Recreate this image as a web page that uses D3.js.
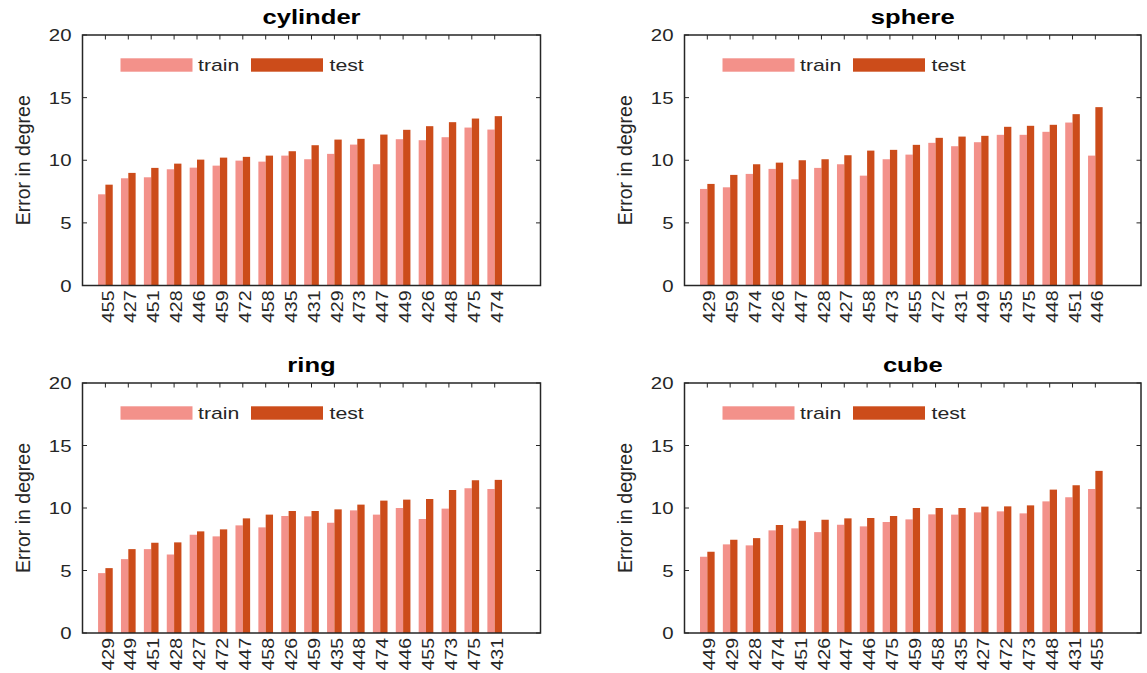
<!DOCTYPE html>
<html>
<head>
<meta charset="utf-8">
<script src="https://cdn.jsdelivr.net/npm/d3@7"></script>
<style>
  html, body { margin: 0; padding: 0; background: #fff; }
  svg { display: block; font-family: "Liberation Sans", Arial, Helvetica, sans-serif; }
</style>
</head>
<body>
<svg id="chart" width="1147" height="673"></svg>
<script>
// Per-object angular error (degrees) for each sequence, sorted by test error.
const cylinderLabels = ["455","427","451","428","446","459","472","458","435","431","429","473","447","449","426","448","475","474"];
const cylinderTrain  = [7.28, 8.56, 8.64, 9.28, 9.41, 9.57, 9.97, 9.89, 10.37, 10.08, 10.51, 11.25, 9.68, 11.68, 11.60, 11.84, 12.61, 12.45];
const cylinderTest   = [8.05, 8.99, 9.39, 9.73, 10.05, 10.21, 10.27, 10.37, 10.72, 11.20, 11.65, 11.71, 12.05, 12.43, 12.72, 13.04, 13.33, 13.52];

const sphereLabels = ["429","459","474","426","447","428","427","458","473","455","472","431","449","435","475","448","451","446"];
const sphereTrain  = [7.71, 7.84, 8.91, 9.31, 8.48, 9.39, 9.68, 8.77, 10.08, 10.45, 11.39, 11.12, 11.44, 12.03, 12.03, 12.27, 13.01, 10.37];
const sphereTest   = [8.11, 8.83, 9.68, 9.81, 10.00, 10.08, 10.40, 10.77, 10.83, 11.23, 11.79, 11.89, 11.95, 12.67, 12.75, 12.83, 13.68, 14.24];

const ringLabels = ["429","449","451","428","427","472","447","458","426","459","435","448","474","446","455","473","475","431"];
const ringTrain  = [4.79, 5.91, 6.71, 6.28, 7.86, 7.73, 8.61, 8.45, 9.36, 9.33, 8.82, 9.81, 9.47, 10.00, 9.12, 9.95, 11.58, 11.52];
const ringTest   = [5.19, 6.71, 7.22, 7.25, 8.13, 8.29, 9.17, 9.47, 9.76, 9.76, 9.89, 10.27, 10.59, 10.67, 10.72, 11.44, 12.22, 12.25];

const cubeLabels = ["449","429","428","474","451","426","447","446","475","459","458","435","427","472","473","448","431","455"];
const cubeTrain  = [6.10, 7.09, 7.01, 8.21, 8.37, 8.07, 8.66, 8.53, 8.88, 9.09, 9.49, 9.47, 9.65, 9.73, 9.57, 10.53, 10.86, 11.52];
const cubeTest   = [6.50, 7.46, 7.59, 8.64, 8.98, 9.06, 9.17, 9.20, 9.36, 10.00, 10.00, 10.00, 10.11, 10.13, 10.21, 11.47, 11.82, 12.97];

const yTicks = [0, 5, 10, 15, 20];
const seriesNames = ["train", "test"];
const seriesColors = ["#F3918A", "#CC4C1A"];

const panels = [
  { title: "cylinder", labels: cylinderLabels, train: cylinderTrain, test: cylinderTest, left: 82.5,  right: 540.5, top: 35,  bottom: 285.5 },
  { title: "sphere",   labels: sphereLabels,   train: sphereTrain,   test: sphereTest,   left: 684.5, right: 1141,  top: 35,  bottom: 285.5 },
  { title: "ring",     labels: ringLabels,     train: ringTrain,     test: ringTest,     left: 82.5,  right: 540.5, top: 383, bottom: 633 },
  { title: "cube",     labels: cubeLabels,     train: cubeTrain,     test: cubeTest,     left: 684.5, right: 1141,  top: 383, bottom: 633 }
];

const svg = d3.select("#chart");
const axisColor = "#262626";
const barW = 0.32; // bar width in category units

panels.forEach(p => {
  const n = p.labels.length;
  const x = d3.scaleLinear().domain([0, n + 2]).range([p.left, p.right]);
  const y = d3.scaleLinear().domain([0, 20]).range([p.bottom, p.top]);
  const g = svg.append("g");

  // bars
  const rows = p.labels.map((lab, i) => ({ i: i + 1, lab, train: p.train[i], test: p.test[i] }));
  g.selectAll("rect.train").data(rows).join("rect")
    .attr("x", d => x(d.i - barW)).attr("width", d => x(d.i) - x(d.i - barW))
    .attr("y", d => y(d.train)).attr("height", d => y(0) - y(d.train))
    .attr("fill", seriesColors[0]);
  g.selectAll("rect.test").data(rows).join("rect")
    .attr("x", d => x(d.i)).attr("width", d => x(d.i + barW) - x(d.i))
    .attr("y", d => y(d.test)).attr("height", d => y(0) - y(d.test))
    .attr("fill", seriesColors[1]);

  // inward ticks: left/right on y, top on categories
  const tl = 4.5;
  yTicks.forEach(t => {
    g.append("line").attr("x1", p.left).attr("x2", p.left + tl).attr("y1", y(t)).attr("y2", y(t))
      .attr("stroke", axisColor).attr("stroke-width", 1);
    g.append("line").attr("x1", p.right).attr("x2", p.right - tl).attr("y1", y(t)).attr("y2", y(t))
      .attr("stroke", axisColor).attr("stroke-width", 1);
  });
  rows.forEach(d => {
    g.append("line").attr("x1", x(d.i)).attr("x2", x(d.i)).attr("y1", p.top).attr("y2", p.top + tl)
      .attr("stroke", axisColor).attr("stroke-width", 1);
  });

  // box
  g.append("rect").attr("x", p.left).attr("y", p.top)
    .attr("width", p.right - p.left).attr("height", p.bottom - p.top)
    .attr("fill", "none").attr("stroke", axisColor).attr("stroke-width", 1.5);

  // y tick labels
  yTicks.forEach(t => {
    g.append("g").attr("transform", `translate(${p.left - 11},${y(t)}) scale(1.2,1)`)
      .append("text").attr("text-anchor", "end").attr("dy", "0.36em")
      .attr("font-size", 17).attr("fill", axisColor).text(t);
  });

  // x tick labels (rotated, stretched along their length)
  rows.forEach(d => {
    g.append("text")
      .attr("transform", `translate(${x(d.i) + 2},${p.bottom + 5}) rotate(-90) scale(1.15,1)`)
      .attr("text-anchor", "end").attr("dy", "0.36em")
      .attr("font-size", 17).attr("fill", axisColor).text(d.lab);
  });

  // y axis label
  g.append("text")
    .attr("transform", `translate(${p.left - 60},${(p.top + p.bottom) / 2}) rotate(-90)`)
    .attr("text-anchor", "middle").attr("dy", "0.36em")
    .attr("font-size", 19.5).attr("fill", axisColor).text("Error in degree");

  // title
  g.append("g").attr("transform", `translate(${(p.left + p.right) / 2},${p.top - 11}) scale(1.28,1)`)
    .append("text").attr("text-anchor", "middle")
    .attr("font-size", 20).attr("font-weight", "bold").attr("fill", "#000").text(p.title);

  // legend
  const ly = p.top + 30;
  const items = [
    { name: seriesNames[0], color: seriesColors[0], sx: 38, tx: 115.5 },
    { name: seriesNames[1], color: seriesColors[1], sx: 168.5, tx: 247 }
  ];
  items.forEach(it => {
    g.append("rect").attr("x", p.left + it.sx).attr("y", ly - 6.7)
      .attr("width", 72).attr("height", 13.4).attr("fill", it.color);
    g.append("g").attr("transform", `translate(${p.left + it.tx},${ly}) scale(1.25,1)`)
      .append("text").attr("dy", "0.36em").attr("font-size", 17).attr("fill", axisColor).text(it.name);
  });
});
</script>
</body>
</html>
